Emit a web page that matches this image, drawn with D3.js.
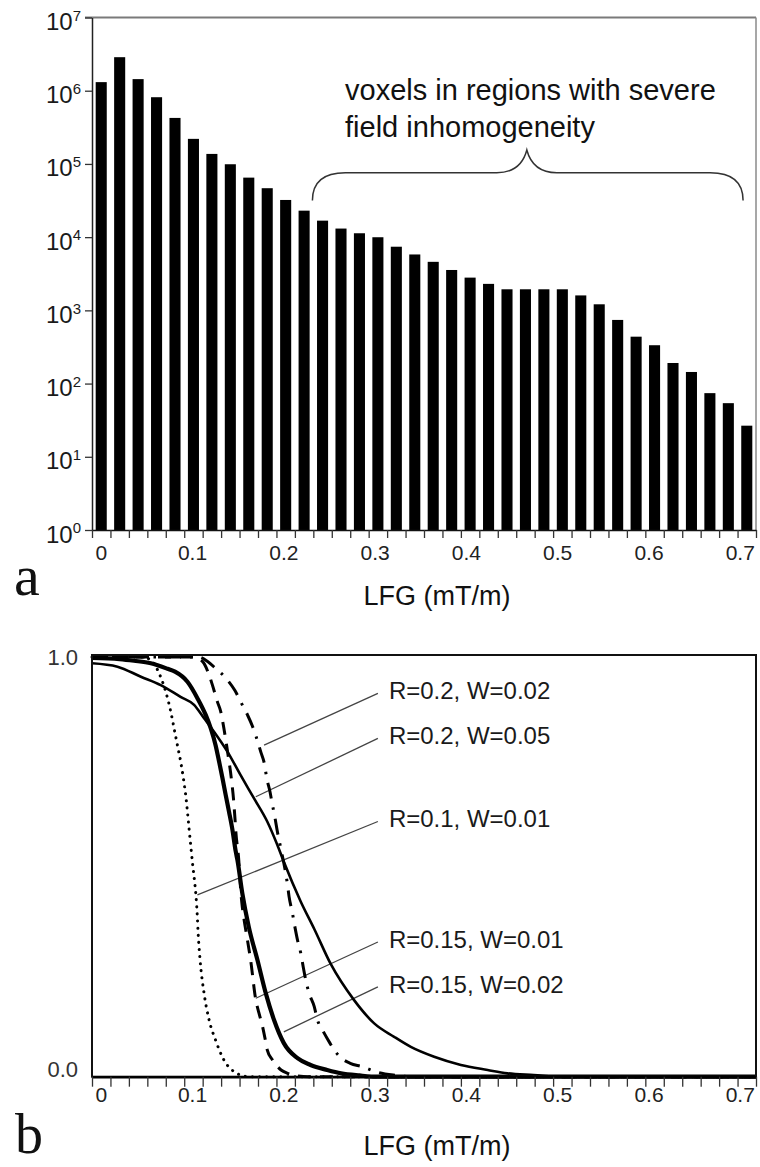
<!DOCTYPE html>
<html>
<head>
<meta charset="utf-8">
<script src="https://cdn.jsdelivr.net/npm/d3@7"></script>
<style>
  body { margin: 0; background: #fff; }
  svg { display: block; font-family: "Liberation Sans", Arial, sans-serif; }
</style>
</head>
<body>
<div id="chart"></div>
<script>
// ---- data: panel a (voxel histogram) ----
const lfgBins = [0, 0.02, 0.04, 0.06, 0.08, 0.1, 0.12, 0.14, 0.16, 0.18,
  0.2, 0.22, 0.24, 0.26, 0.28, 0.3, 0.32, 0.34, 0.36, 0.38,
  0.4, 0.42, 0.44, 0.46, 0.48, 0.5, 0.52, 0.54, 0.56, 0.58,
  0.6, 0.62, 0.64, 0.66, 0.68, 0.7];
const voxelCounts = [1.31e6, 2.87e6, 1.44e6, 8.15e5, 4.25e5, 2.2e5, 1.37e5, 9.9e4, 6.5e4, 4.66e4,
  3.22e4, 2.3e4, 1.68e4, 1.31e4, 1.13e4, 9970, 7400, 5800, 4600, 3560,
  2800, 2300, 1940, 1940, 1940, 1940, 1600, 1210, 740, 437,
  334, 191, 144, 74, 54, 26.6];
const decadeTicks = [1, 10, 100, 1e3, 1e4, 1e5, 1e6, 1e7];
const lfgTickLabels = [0, 0.1, 0.2, 0.3, 0.4, 0.5, 0.6, 0.7];

// ---- data: panel b (weighting curves) ----
const curveR02W005 = [[-0.01, 0.985], [0.0176, 0.977], [0.043, 0.953], [0.0645, 0.933], [0.086, 0.905],
  [0.1007, 0.886], [0.1115, 0.854], [0.1223, 0.822], [0.137, 0.774], [0.151, 0.719], [0.1657, 0.663],
  [0.18, 0.608], [0.191, 0.552], [0.198, 0.512], [0.2164, 0.417], [0.231, 0.352], [0.249, 0.268],
  [0.274, 0.183], [0.296, 0.127], [0.3176, 0.095], [0.3357, 0.071], [0.361, 0.0475], [0.39, 0.028],
  [0.419, 0.016], [0.4405, 0.008], [0.469, 0.004], [0.5, 0], [0.71, 0]];
const curveR01W001 = [[-0.01, 1.0], [0.045, 1.0], [0.052, 0.995], [0.057, 0.985], [0.063, 0.96],
  [0.07, 0.917], [0.0754, 0.87], [0.079, 0.83], [0.0826, 0.79], [0.0862, 0.75], [0.0891, 0.711],
  [0.0916, 0.671], [0.0935, 0.631], [0.0952, 0.592], [0.097, 0.552], [0.0989, 0.51], [0.101, 0.47],
  [0.1025, 0.437], [0.104, 0.39], [0.105, 0.345], [0.1072, 0.278], [0.1115, 0.199], [0.117, 0.135],
  [0.124, 0.087], [0.133, 0.04], [0.144, 0.012], [0.151, 0.004], [0.16, 0], [0.71, 0]];
const curveR015W001 = [[-0.01, 1.0], [0.1, 1.0], [0.11, 0.989], [0.117, 0.957], [0.1206, 0.933],
  [0.126, 0.893], [0.1296, 0.87], [0.133, 0.83], [0.1375, 0.767], [0.141, 0.712], [0.1435, 0.66],
  [0.145, 0.616], [0.146, 0.583], [0.149, 0.52], [0.1515, 0.437], [0.153, 0.404], [0.155, 0.373],
  [0.158, 0.333], [0.162, 0.278], [0.1676, 0.183], [0.171, 0.152], [0.175, 0.119], [0.178, 0.087],
  [0.18, 0.064], [0.1857, 0.04], [0.195, 0.016], [0.202, 0.008], [0.212, 0.002], [0.225, 0], [0.71, 0]];
const curveR02W002 = [[-0.01, 1.0], [0.105, 1.0], [0.115, 0.99], [0.124, 0.973], [0.135, 0.95],
  [0.145, 0.92], [0.152, 0.89], [0.1586, 0.862], [0.164, 0.835], [0.168, 0.81], [0.173, 0.774],
  [0.177, 0.745], [0.1795, 0.711], [0.183, 0.679], [0.1857, 0.647], [0.1885, 0.616], [0.191, 0.584],
  [0.194, 0.552], [0.202, 0.457], [0.2037, 0.429], [0.2074, 0.389], [0.21, 0.357], [0.2128, 0.326],
  [0.2164, 0.294], [0.219, 0.262], [0.2218, 0.23], [0.2254, 0.199], [0.231, 0.167], [0.2345, 0.135],
  [0.24, 0.111], [0.248, 0.08], [0.2525, 0.064], [0.26, 0.045], [0.27, 0.032], [0.283, 0.024],
  [0.3, 0.01], [0.32, 0.003], [0.335, 0], [0.71, 0]];
const curveR015W002 = [[-0.01, 0.998], [0.02, 0.995], [0.0356, 0.991], [0.0537, 0.985], [0.0718, 0.972],
  [0.08, 0.965], [0.0935, 0.941], [0.1043, 0.902], [0.1133, 0.862], [0.1188, 0.83], [0.124, 0.79],
  [0.1278, 0.751], [0.1315, 0.711], [0.135, 0.671], [0.1386, 0.631], [0.142, 0.592], [0.1459, 0.536],
  [0.1477, 0.516], [0.153, 0.437], [0.16, 0.357], [0.1694, 0.278], [0.1784, 0.199], [0.1874, 0.135],
  [0.198, 0.08], [0.2128, 0.044], [0.227, 0.028], [0.245, 0.016], [0.26, 0.008], [0.28, 0.003],
  [0.3, 0], [0.71, 0]];
const yTicksB = [0, 1];

// label, point on curve [lfg, value], end of leader line [lfg, value]
const curveNotes = [
  { label: "R=0.2, W=0.02", at: [0.1766, 0.79], end: [0.3, 0.9135] },
  { label: "R=0.2, W=0.05", at: [0.1676, 0.667], end: [0.3, 0.806] },
  { label: "R=0.1, W=0.01", at: [0.1043, 0.433], end: [0.3, 0.608] },
  { label: "R=0.15, W=0.01", at: [0.1676, 0.187], end: [0.3, 0.321] },
  { label: "R=0.15, W=0.02", at: [0.198, 0.107], end: [0.3, 0.214] },
];

// ---- layout ----
const dims = { width: 760, height: 1167, left: 92, right: 756 };
const panelA = { top: 17.5, bottom: 530 };
const panelB = { top: 655, bottom: 1076.7 };

const svg = d3.select("#chart").append("svg")
  .attr("width", dims.width)
  .attr("height", dims.height);

// ================= panel a =================
const xBand = d3.scaleBand()
  .domain(lfgBins)
  .range([dims.left, dims.right])
  .paddingInner(0.4)
  .paddingOuter(0.2);

const xLin = d3.scaleLinear()
  .domain([lfgBins[0] - 0.01, lfgBins[lfgBins.length - 1] + 0.01])
  .range([dims.left, dims.right]);

// tick labels in the source sit a touch left of the bin centres
const xLabel = d3.scaleLinear()
  .domain([0, 0.7])
  .range([xLin(0) - 0.5, xLin(0.7) - 7]);

const binEdges = lfgBins.map((b) => b - 0.01).concat([lfgBins[lfgBins.length - 1] + 0.01]);

const yLog = d3.scaleLog()
  .domain([1, 1e7])
  .range([panelA.bottom, panelA.top]);

// gray frame top / right
svg.append("line")
  .attr("x1", dims.left - 7).attr("x2", dims.right)
  .attr("y1", panelA.top).attr("y2", panelA.top)
  .attr("stroke", "#7a7a7a").attr("stroke-width", 2);
svg.append("line")
  .attr("x1", dims.right).attr("x2", dims.right)
  .attr("y1", panelA.top).attr("y2", panelA.bottom)
  .attr("stroke", "#8a8a8a").attr("stroke-width", 1.5);

svg.append("g")
  .selectAll("rect")
  .data(voxelCounts)
  .join("rect")
  .attr("x", (d, i) => xBand(lfgBins[i]))
  .attr("width", xBand.bandwidth())
  .attr("y", (d) => yLog(d))
  .attr("height", (d) => yLog(1) - yLog(d))
  .attr("fill", "#000");

// y axis with 10^n labels
svg.append("g")
  .attr("transform", `translate(${dims.left},0)`)
  .call(d3.axisLeft(yLog).tickValues(decadeTicks).tickSize(7).tickSizeOuter(0).tickPadding(4).tickFormat(() => "10"))
  .call((g) => {
    g.select(".domain").attr("stroke", "#222").attr("stroke-width", 1.5);
    g.selectAll(".tick line").attr("stroke", "#333").attr("stroke-width", 1.3);
    g.selectAll(".tick text")
      .attr("font-size", "24px")
      .attr("fill", "#1a1a1a")
      .attr("dy", "0.5em")
      .append("tspan")
      .attr("dy", "-0.62em")
      .attr("font-size", "15px")
      .text((d) => Math.round(Math.log10(d)));
  });

// x axis: ticks at bin edges, labels at bin centres
svg.append("g")
  .attr("transform", `translate(0,${panelA.bottom})`)
  .call(d3.axisBottom(xLin).tickValues(binEdges).tickSize(8).tickSizeOuter(0).tickFormat(""))
  .call((g) => {
    g.select(".domain").attr("stroke", "#111").attr("stroke-width", 1.5);
    g.selectAll(".tick line").attr("stroke", "#333").attr("stroke-width", 1.3);
  });

svg.append("g")
  .attr("transform", `translate(0,${panelA.bottom})`)
  .call(d3.axisBottom(xLabel).tickValues(lfgTickLabels).tickSize(0).tickPadding(15).tickFormat((d) => String(d)))
  .call((g) => {
    g.select(".domain").remove();
    g.selectAll(".tick text").attr("font-size", "21px").attr("fill", "#222");
  });

// brace over the high-gradient bins
const brace = { x0: 0.229, x1: 0.696, tip: 0.4615, yEnd: 10 ** 4.5, yBar: 10 ** 4.88, yTip: 10 ** 5.19 };
const bx0 = xLin(brace.x0), bx1 = xLin(brace.x1), bxt = xLin(brace.tip);
const byE = yLog(brace.yEnd), byB = yLog(brace.yBar), byT = yLog(brace.yTip);
svg.append("path")
  .attr("d", `M${bx0},${byE} Q${bx0},${byB} ${bx0 + 33},${byB} L${bxt - 30},${byB} ` +
    `Q${bxt - 6},${byB} ${bxt},${byT} Q${bxt + 6},${byB} ${bxt + 30},${byB} ` +
    `L${bx1 - 33},${byB} Q${bx1},${byB} ${bx1},${byE}`)
  .attr("fill", "none")
  .attr("stroke", "#333")
  .attr("stroke-width", 1.5);

svg.append("text")
  .attr("x", xLin(0.2644)).attr("y", yLog(10 ** 5.87))
  .attr("font-size", "29px").attr("fill", "#111")
  .text("voxels in regions with severe");
svg.append("text")
  .attr("x", xLin(0.2644)).attr("y", yLog(10 ** 5.37))
  .attr("font-size", "29px").attr("fill", "#111")
  .text("field inhomogeneity");

svg.append("text")
  .attr("x", (dims.left + dims.right) / 2 + 13).attr("y", 605)
  .attr("text-anchor", "middle")
  .attr("font-size", "27px").attr("fill", "#111")
  .text("LFG (mT/m)");
svg.append("text")
  .attr("x", 14).attr("y", 595)
  .attr("font-family", "'Liberation Serif', 'Times New Roman', serif")
  .attr("font-size", "58px").attr("fill", "#111")
  .text("a");

// ================= panel b =================
const yB = d3.scaleLinear()
  .domain([0, 1])
  .range([panelB.bottom, 657]);

const lineGen = d3.line()
  .x((d) => xLin(d[0]))
  .y((d) => yB(d[1]))
  .curve(d3.curveMonotoneX);

const curves = [
  { data: curveR02W005, width: 2.6, dash: null, cap: "butt" },
  { data: curveR01W001, width: 3, dash: "0.1 7", cap: "round" },
  { data: curveR015W001, width: 3, dash: "13 9", cap: "butt" },
  { data: curveR02W002, width: 3, dash: "16 9 2.5 9", cap: "butt" },
  { data: curveR015W002, width: 4.2, dash: null, cap: "butt" },
];

// leader lines
svg.append("g")
  .selectAll("line")
  .data(curveNotes)
  .join("line")
  .attr("x1", (d) => xLin(d.at[0])).attr("y1", (d) => yB(d.at[1]))
  .attr("x2", (d) => xLin(d.end[0])).attr("y2", (d) => yB(d.end[1]))
  .attr("stroke", "#444")
  .attr("stroke-width", 1.3);

svg.append("g")
  .selectAll("path")
  .data(curves)
  .join("path")
  .attr("d", (d) => lineGen(d.data))
  .attr("fill", "none")
  .attr("stroke", "#000")
  .attr("stroke-width", (d) => d.width)
  .attr("stroke-dasharray", (d) => d.dash)
  .attr("stroke-linecap", (d) => d.cap)
  .attr("stroke-linejoin", "round");

svg.append("g")
  .selectAll("text")
  .data(curveNotes)
  .join("text")
  .attr("x", (d) => xLin(d.end[0]) + 11)
  .attr("y", (d) => yB(d.end[1]) - 3)
  .attr("dy", "0.36em")
  .attr("font-size", "24px")
  .attr("fill", "#1a1a1a")
  .text((d) => d.label);

// frame
svg.append("rect")
  .attr("x", dims.left).attr("y", panelB.top)
  .attr("width", dims.right - dims.left)
  .attr("height", panelB.bottom - panelB.top)
  .attr("fill", "none")
  .attr("stroke", "#111")
  .attr("stroke-width", 2);

svg.append("g")
  .attr("transform", `translate(0,${panelB.bottom})`)
  .call(d3.axisBottom(xLin).tickValues(binEdges).tickSize(10).tickSizeOuter(0).tickFormat(""))
  .call((g) => {
    g.select(".domain").attr("stroke", "#000").attr("stroke-width", 2.5);
    g.selectAll(".tick line").attr("stroke", "#333").attr("stroke-width", 1.3);
  });

svg.append("g")
  .attr("transform", `translate(0,${panelB.bottom})`)
  .call(d3.axisBottom(xLabel).tickValues(lfgTickLabels).tickSize(0).tickPadding(10).tickFormat((d) => String(d)))
  .call((g) => {
    g.select(".domain").remove();
    g.selectAll(".tick text").attr("font-size", "21px").attr("fill", "#222");
  });

svg.append("g")
  .attr("transform", `translate(${dims.left},0)`)
  .call(d3.axisLeft(yB).tickValues(yTicksB).tickSize(0).tickPadding(14).tickFormat(d3.format(".1f")))
  .call((g) => {
    g.select(".domain").remove();
    g.selectAll(".tick text")
      .attr("font-size", "22px")
      .attr("fill", "#333")
      .attr("transform", (d) => (d === 0 ? "translate(0,-7)" : null));
  });

svg.append("text")
  .attr("x", (dims.left + dims.right) / 2 + 13).attr("y", 1155)
  .attr("text-anchor", "middle")
  .attr("font-size", "27px").attr("fill", "#111")
  .text("LFG (mT/m)");
svg.append("text")
  .attr("x", 15).attr("y", 1153)
  .attr("font-family", "'Liberation Serif', 'Times New Roman', serif")
  .attr("font-size", "56px").attr("fill", "#111")
  .text("b");
</script>
</body>
</html>
